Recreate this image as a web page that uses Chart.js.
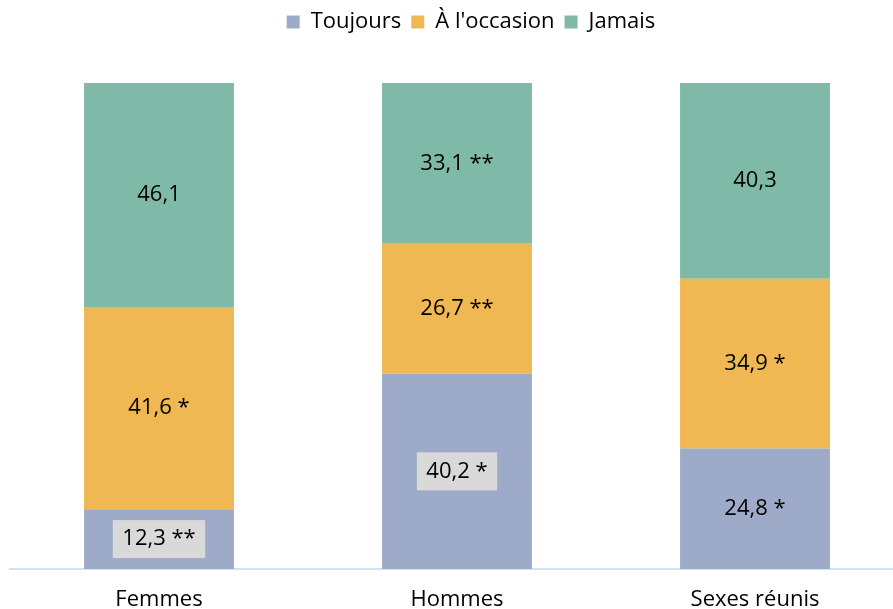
<!DOCTYPE html>
<html lang="fr">
<head>
<meta charset="UTF-8">
<title>Graphique</title>
<script src="https://cdn.jsdelivr.net/npm/chart.js"></script>
<style>
  html, body { margin: 0; padding: 0; overflow: hidden; background: #fff; }
  #wrap { width: 904px; height: 609px; }
</style>
</head>
<body>
<div id="wrap"><canvas id="myChart"></canvas></div>
<script>
const categories = ['Femmes', 'Hommes', 'Sexes réunis'];
const toujours = [12.3, 40.2, 24.8];
const occasion = [41.6, 26.7, 34.9];
const jamais = [46.1, 33.1, 40.3];
// étoiles de significativité
const toujoursStars = ['**', '*', '*'];
const occasionStars = ['*', '**', '*'];
const jamaisStars = ['', '**', ''];
// étiquettes avec fond gris
const toujoursBoxed = [true, true, false];

const FONT = '"Open Sans", sans-serif';

// espace sous la légende + léger décalage vers la droite
const legendSpace = {
  id: 'legendSpace',
  afterInit(chart) {
    const fit = chart.legend.fit;
    chart.legend.fit = function () {
      fit.call(this);
      this.height += 40;
    };
  },
  afterLayout(chart) {
    chart.legend.left += 14;
    chart.legend.right += 14;
  }
};

const labelPlugin = {
  id: 'segLabels',
  afterDatasetsDraw(chart) {
    const ctx = chart.ctx;
    ctx.save();
    ctx.font = '22px ' + FONT;
    ctx.textAlign = 'center';
    ctx.textBaseline = 'middle';
    chart.data.datasets.forEach((ds, i) => {
      const meta = chart.getDatasetMeta(i);
      meta.data.forEach((bar, j) => {
        let txt = ds.data[j].toFixed(1).replace('.', ',');
        if (ds.stars[j]) txt += ' ' + ds.stars[j];
        const cy = (bar.y + bar.base) / 2;
        if (ds.boxed && ds.boxed[j]) {
          const w = ctx.measureText(txt).width + 19;
          ctx.fillStyle = '#d9d9d9';
          ctx.fillRect(bar.x - w / 2, cy - 19, w, 38);
        }
        ctx.fillStyle = '#000';
        ctx.fillText(txt, bar.x, cy);
      });
    });
    ctx.restore();
  }
};

const data = {
  labels: categories,
  datasets: [
    { label: 'Toujours', data: toujours, stars: toujoursStars, boxed: toujoursBoxed, backgroundColor: '#9eabc8' },
    { label: "À l'occasion", data: occasion, stars: occasionStars, backgroundColor: '#f0b852' },
    { label: 'Jamais', data: jamais, stars: jamaisStars, backgroundColor: '#7fbaa9' }
  ]
};

const config = {
  type: 'bar',
  data: data,
  options: {
    responsive: true,
    maintainAspectRatio: false,
    animation: false,
    layout: { padding: { left: 10, right: 0, top: 1, bottom: 0 } },
    datasets: { bar: { categoryPercentage: 1, barPercentage: 0.503 } },
    plugins: {
      legend: {
        position: 'top',
        labels: {
          font: { size: 22, family: FONT, lineHeight: 1 },
          color: '#000',
          boxWidth: 13,
          boxHeight: 13,
          padding: 10
        }
      },
      tooltip: { enabled: false }
    },
    scales: {
      x: {
        stacked: true,
        grid: { display: false, drawTicks: false },
        border: { color: '#d5e1ef', width: 2 },
        ticks: { font: { size: 22, family: FONT, lineHeight: 1 }, color: '#000', padding: 20 },
        afterFit(scale) { scale.height = 40; }
      },
      y: {
        stacked: true,
        display: false,
        min: 0,
        max: 100
      }
    }
  },
  plugins: [legendSpace, labelPlugin]
};

new Chart(document.querySelector('#myChart'), config);
</script>
</body>
</html>
